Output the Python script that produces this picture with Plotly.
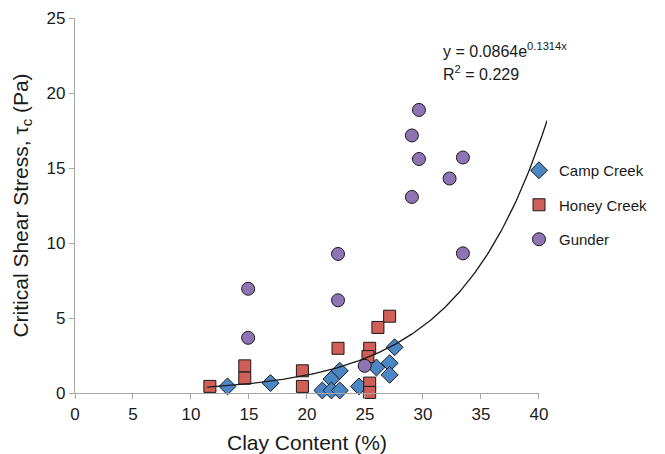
import numpy as np
import plotly.graph_objects as go

# Data
camp_x = [13.15, 16.86, 21.33, 22.11, 22.11, 22.83, 22.83, 24.49, 25.99, 27.13, 27.13, 27.56]
camp_y = [0.44, 0.66, 0.17, 0.93, 0.17, 0.17, 1.48, 0.44, 1.70, 1.99, 1.21, 3.05]

honey_x = [11.63, 14.64, 14.64, 19.61, 19.61, 22.68, 25.41, 25.26, 25.41, 25.41, 26.12, 27.13]
honey_y = [0.44, 1.81, 0.99, 1.48, 0.44, 2.98, 2.98, 2.43, 0.66, 0.04, 4.37, 5.12]

gunder_x = [22.68, 14.93, 22.68, 14.93, 24.98, 29.66, 29.05, 29.66, 33.45, 32.30, 29.05, 33.45]
gunder_y = [9.27, 6.95, 6.18, 3.68, 1.81, 18.87, 17.17, 15.60, 15.70, 14.30, 13.07, 9.31]

trend_a = 0.0864
trend_b = 0.1314
trend_x_start = 11.4
trend_x_end = 40.7
r_squared = 0.229

x_ticks = [0, 5, 10, 15, 20, 25, 30, 35, 40]
y_ticks = [0, 5, 10, 15, 20, 25]

FONT = "Liberation Sans, Arial, Helvetica, sans-serif"
TXT = "#1a1a1a"

tx = np.linspace(trend_x_start, trend_x_end, 200)
ty = trend_a * np.exp(trend_b * tx)

fig = go.Figure()

x_max = 40
x_ext = 40.7
dom_main = x_max / x_ext

fig.add_trace(go.Scatter(
    x=tx, y=ty, mode="lines", xaxis="x2", yaxis="y",
    line=dict(color="#1a1a1a", width=1.3), showlegend=False, hoverinfo="skip"))

fig.add_trace(go.Scatter(
    x=camp_x, y=camp_y, mode="markers", name="Camp Creek", legendgroup="a",
    marker=dict(symbol="diamond", size=13, color="#4C87C5",
                line=dict(color="#1a1a1a", width=1)), cliponaxis=False))
fig.add_trace(go.Scatter(
    x=honey_x, y=honey_y, mode="markers", name="Honey Creek", legendgroup="b",
    marker=dict(symbol="square", size=12, color="#CF5F57",
                line=dict(color="#1a1a1a", width=1)), cliponaxis=False))
fig.add_trace(go.Scatter(
    x=gunder_x, y=gunder_y, mode="markers", name="Gunder", legendgroup="c",
    marker=dict(symbol="circle", size=13, color="#8F74B5",
                line=dict(color="#1a1a1a", width=1)), cliponaxis=False))

axis_common = dict(showgrid=False, zeroline=False, showline=True, automargin=False,
                   linecolor="#A6A6A6", linewidth=1.2,
                   ticks="outside", ticklen=5, tickcolor="#A6A6A6",
                   tickfont=dict(family=FONT, size=17, color=TXT))

# The page body has an 8px margin, so the figure is drawn 8px smaller and offset.
W, H = 657, 446
L, R, T, B = 67, 118, 10, 61
plot_w = W - L - R
plot_h = H - T - B
OFF = 8

fig.update_layout(
    template="none",
    width=W, height=H,
    margin=dict(l=L, r=R, t=T, b=B, pad=0),
    paper_bgcolor="white", plot_bgcolor="rgba(0,0,0,0)",
    font=dict(family=FONT, color=TXT),
    xaxis=dict(range=[0, x_max], domain=[0, dom_main], tickvals=x_ticks,
               title=dict(text="Clay Content (%)", font=dict(size=21, color=TXT), standoff=12),
               **axis_common),
    xaxis2=dict(range=[0, x_ext], domain=[0, 1], anchor="y", visible=False,
                showgrid=False, zeroline=False),
    yaxis=dict(range=[0, 25], tickvals=y_ticks,
               title=dict(text="Critical Shear Stress, τ<sub>c</sub> (Pa)", font=dict(size=21, color=TXT), standoff=12),
               **axis_common),
    legend=dict(xref="paper", yref="paper", x=(511 - L) / plot_w, xanchor="left",
                y=(H - B - (154 - OFF)) / plot_h, yanchor="top",
                font=dict(family=FONT, size=15, color=TXT), tracegroupgap=12,
                bgcolor="rgba(0,0,0,0)", borderwidth=0),
    showlegend=True,
    annotations=[
        dict(xref="paper", yref="paper", x=(441 - OFF - L) / plot_w, y=(H - B - (50 - OFF)) / plot_h,
             xanchor="left", yanchor="middle", showarrow=False,
             text=f"y = {trend_a}e<sup>{trend_b}x</sup>", font=dict(family=FONT, size=16, color=TXT)),
        dict(xref="paper", yref="paper", x=(441 - OFF - L) / plot_w, y=(H - B - (73 - OFF)) / plot_h,
             xanchor="left", yanchor="middle", showarrow=False,
             text=f"R<sup>2</sup> = {r_squared}", font=dict(family=FONT, size=16, color=TXT)),
    ],
)

fig.write_html("out.html")
